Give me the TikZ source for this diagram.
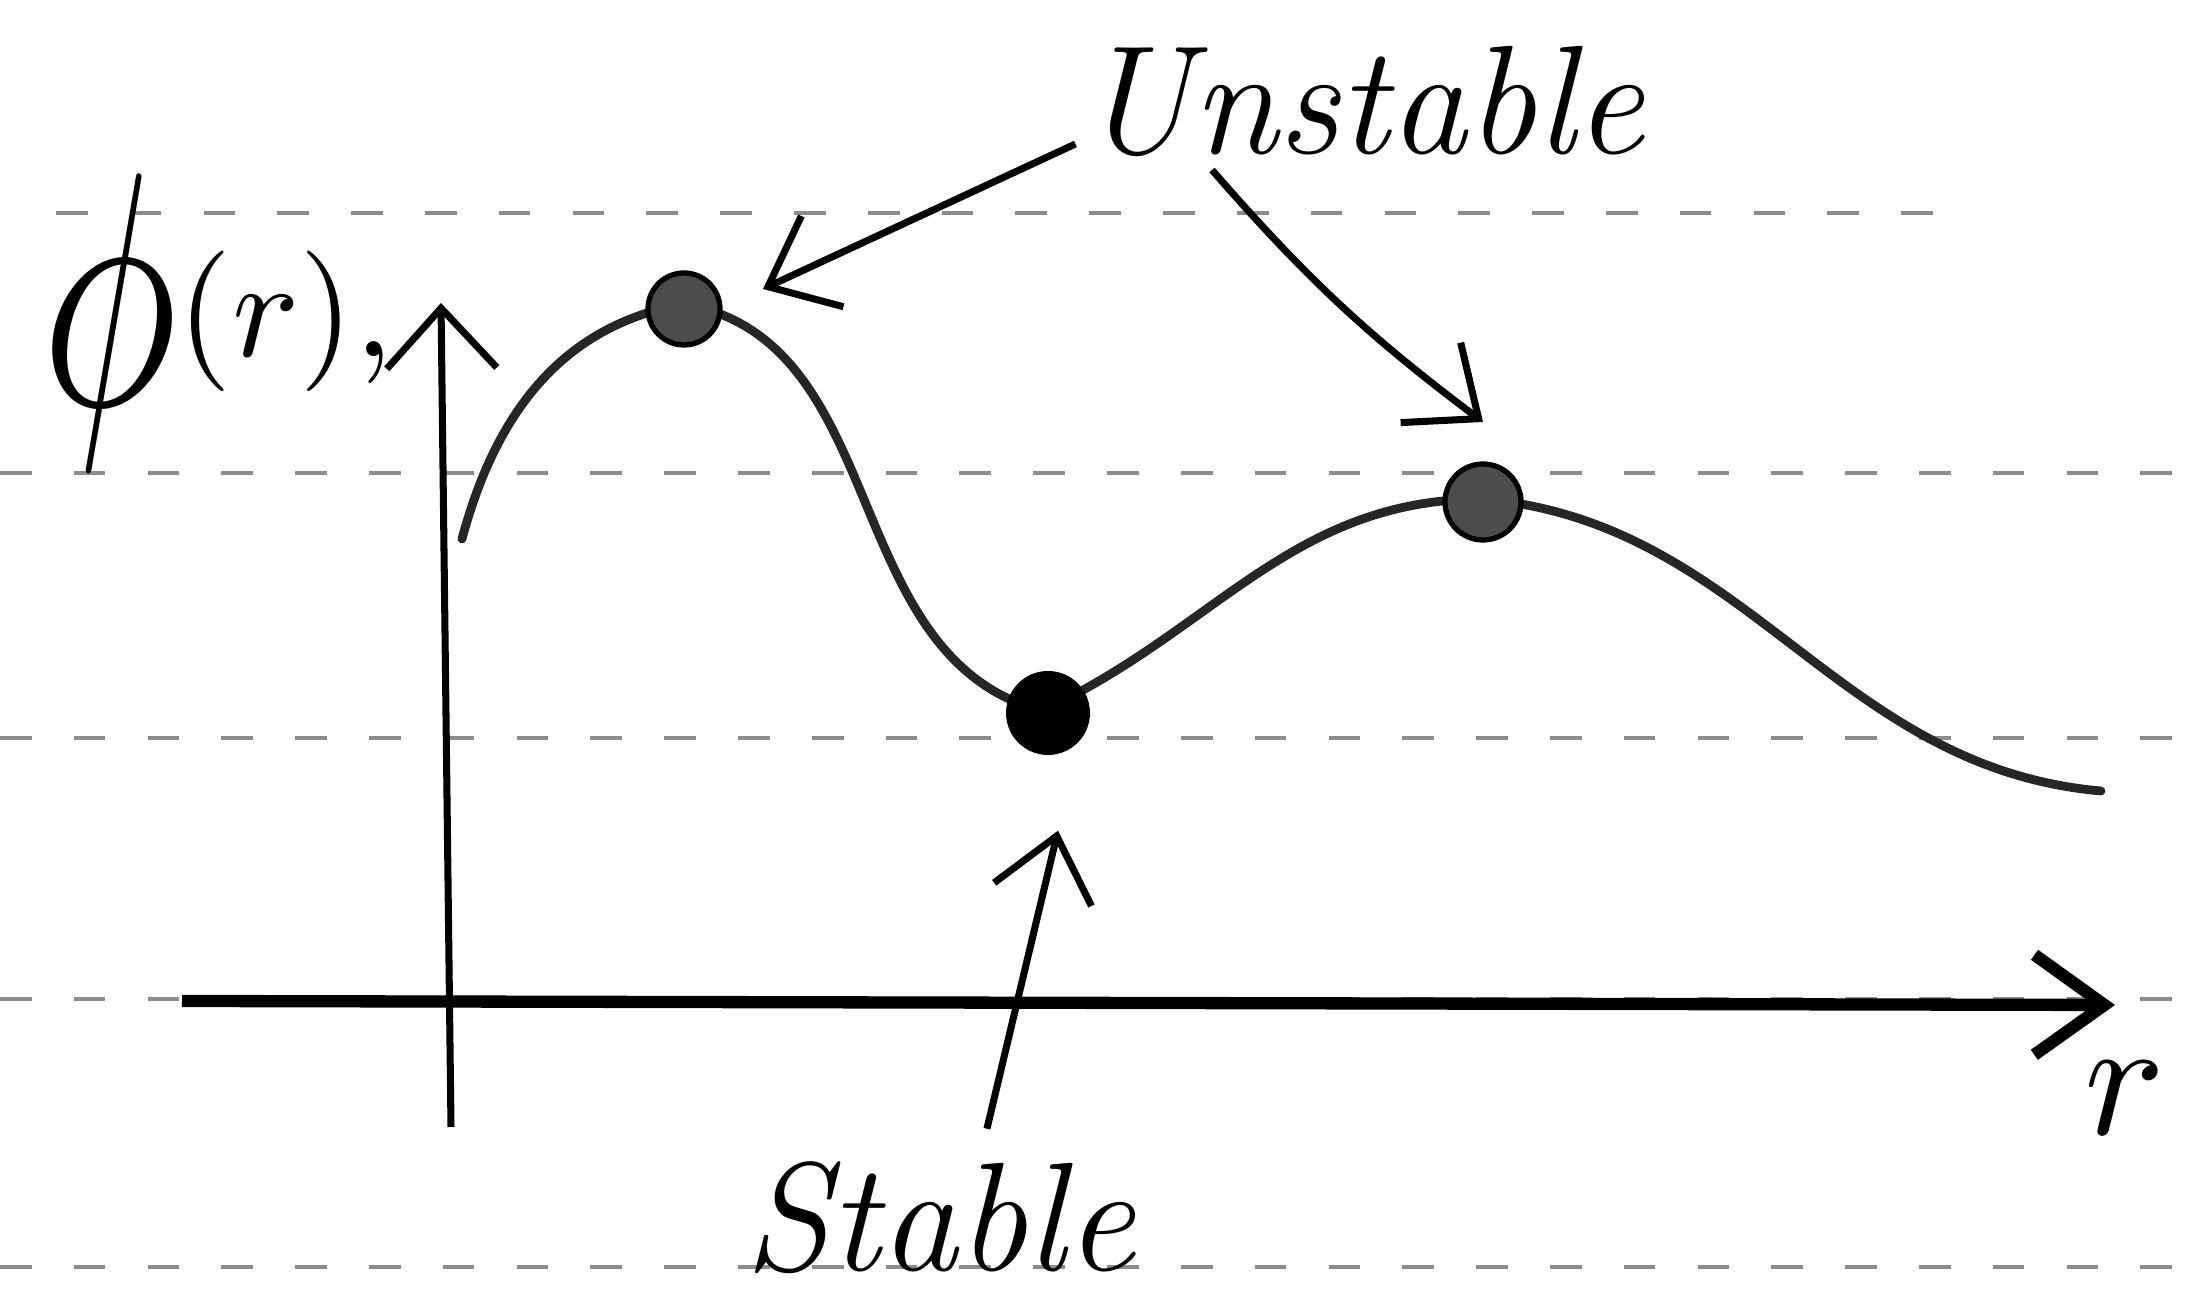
\documentclass[tikz,border=0pt]{standalone}
\usepackage{graphicx}
\usetikzlibrary{arrows.meta, calc}
\tikzset{
  ruleline/.style={draw=black!45, line width=0.9pt, dash pattern=on 9pt off 12pt},
  xaxis/.style={draw=black, line width=3.5pt,
    -{Straight Barb[length=7mm, width=10mm]}},
  yaxis/.style={draw=black, line width=2pt,
    -{Straight Barb[length=6mm, width=11mm]}},
  potential/.style={draw=black!85, line width=2.5pt, line cap=round},
  unstabledot/.style={circle, draw=black, fill=black!70, line width=1.5pt,
    minimum size=7.2mm, inner sep=0pt},
  stabledot/.style={circle, fill=black, minimum size=8.4mm, inner sep=0pt},
  pointer/.style={draw=black, line width=2pt,
    -{Straight Barb[length=6mm, width=10mm]}},
  handlbl/.style={font=\fontsize{44}{52}\selectfont\itshape, inner sep=1pt},
  axislbl/.style={inner sep=0pt},
}

\begin{document}
\begin{tikzpicture}
  \useasboundingbox (0,0) rectangle (21.96,12.97);

  % ==================================================================
  % Ruled notebook lines
  % ==================================================================
  \foreach \yy in {0.30,2.98,5.59,8.24}
    \draw[ruleline] (0,\yy) -- (21.96,\yy);
  \draw[ruleline] (0.56,10.84) -- (19.6,10.84);

  % ==================================================================
  % Axes
  % ==================================================================
  \coordinate (xStart) at (1.82,2.96);
  \coordinate (xEnd) at (21.15,2.92);
  \coordinate (yBot) at (4.51,1.70);
  \coordinate (yTop) at (4.41,9.94);

  \draw[xaxis] (xStart) -- (xEnd);
  \draw[yaxis] (yBot) -- (yTop);

  % ==================================================================
  % Potential curve and its fixed points
  % ==================================================================
  \draw[potential] (4.62,7.58) to[out=75, in=190] (6.84,9.93)
    to[out=-10, in=165] (10.42,5.86)
    to[out=25, in=180] (14.83,7.98)
    to[out=-5, in=175] (21.01,5.06);

  \node[unstabledot] (maxLeft) at (6.84,9.88) {};
  \node[unstabledot, minimum size=7.6mm] (maxRight) at (14.83,7.95) {};
  \node[stabledot] (minMid) at (10.48,5.84) {};

  % ----------------------------------------------------------------
  % Labels
  % ----------------------------------------------------------------
  \node[handlbl, anchor=base] (unstableLbl) at (13.62,11.43) {Unstable};
  \node[handlbl, anchor=base] (stableLbl) at (9.40,0.26) {Stable};
  \node[axislbl, anchor=base west] (phiLbl) at (0.41,9.4)
    {\raisebox{-0.49cm}{\scalebox{6.5}[9.5]{$\phi$}}\scalebox{4}{$(r)$,}};
  \node[axislbl] (rLbl) at (21.25,1.99) {\scalebox{4.8}{$r$}};

  % ----------------------------------------------------------------
  % Pointers
  % ----------------------------------------------------------------
  \draw[pointer] ([yshift=1mm]unstableLbl.base west)
    -- ([shift={(0.79,0.2)}]maxLeft.center);
  \draw[pointer] ([xshift=-1.5cm, yshift=-1.6mm]unstableLbl.base)
    to[bend right=6] ([yshift=8mm]maxRight.center);
  \draw[pointer, shorten <=3mm] ([xshift=4mm]stableLbl.north)
    -- ([xshift=1mm, yshift=-7.5mm]minMid.south);

\end{tikzpicture}
\end{document}
